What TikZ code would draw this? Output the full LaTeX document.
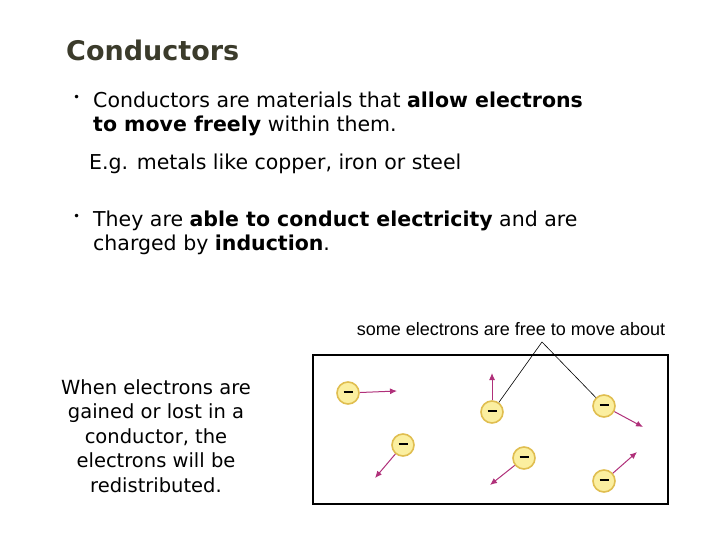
\documentclass[tikz,border=0pt]{standalone}
\usepackage{fontspec}
\usetikzlibrary{arrows.meta}
\setmainfont{DejaVu Sans}
\newfontfamily\labfont{Liberation Sans}
\definecolor{titlec}{HTML}{3B3B2B}
\definecolor{arr}{HTML}{B0307A}
\definecolor{efill}{HTML}{FBEFA0}
\definecolor{edge}{HTML}{E0BE50}
\begin{document}
\begin{tikzpicture}[x=1pt,y=-1pt,
  txt/.style={anchor=north west,inner sep=0pt,font=\fontsize{20.5}{24}\selectfont,align=left},
  el/.style={circle,minimum size=22pt,inner sep=0pt,fill=efill,draw=edge,line width=1.6pt},
  mv/.style={arr,line width=1pt,-{Latex[length=7pt,width=6pt]}}]
\useasboundingbox (0,0) rectangle (720,540);
\fill[white] (0,0) rectangle (720,540);
\node[anchor=west,inner sep=0pt,text=titlec,font=\fontsize{27}{30}\selectfont\bfseries] (title) at (66,50) {Conductors};
\node[txt,font=\fontsize{12}{24}\selectfont] (b1) at (73,95) {\textbullet};
\node[txt] (t1) at (93,92) {Conductors are materials that \textbf{allow electrons}\\\textbf{to move freely} within them.};
\node[txt] (t2) at (89,154) {E.g. metals like copper, iron or steel};
\node[txt,font=\fontsize{12}{24}\selectfont] (b2) at (73,214) {\textbullet};
\node[txt] (t3) at (93,211) {They are \textbf{able to conduct electricity} and are\\charged by \textbf{induction}.};
\node[align=center,inner sep=0pt,font=\fontsize{19.5}{24.5}\selectfont] (side) at (156,436) {When electrons are\\gained or lost in a\\conductor, the\\electrons will be\\redistributed.};
\draw[line width=2pt] (313,355) rectangle (668,504);
\node[inner sep=0pt,font=\labfont\fontsize{18}{20}\selectfont] (lab) at (511,329) {some electrons are free to move about};
\coordinate (apex) at (542,342);
\foreach \n/\x/\y in {e1/348/393,e2/492/412,e3/604/406,e4/403/445,e5/524/458,e6/604/481}
  \node[el] (\n) at (\x,\y) {\rule[2.5pt]{9pt}{1.6pt}};
\coordinate (a1) at (397,391);\coordinate (a2) at (492,373);\coordinate (a3) at (643,427);
\coordinate (a4) at (375,478);\coordinate (a5) at (490,485);\coordinate (a6) at (637,452);
\foreach \i in {1,...,6} \draw[mv] (e\i) -- (a\i);
\draw[line width=0.6pt] (e2) -- (apex) -- (e3);
\end{tikzpicture}
\end{document}
